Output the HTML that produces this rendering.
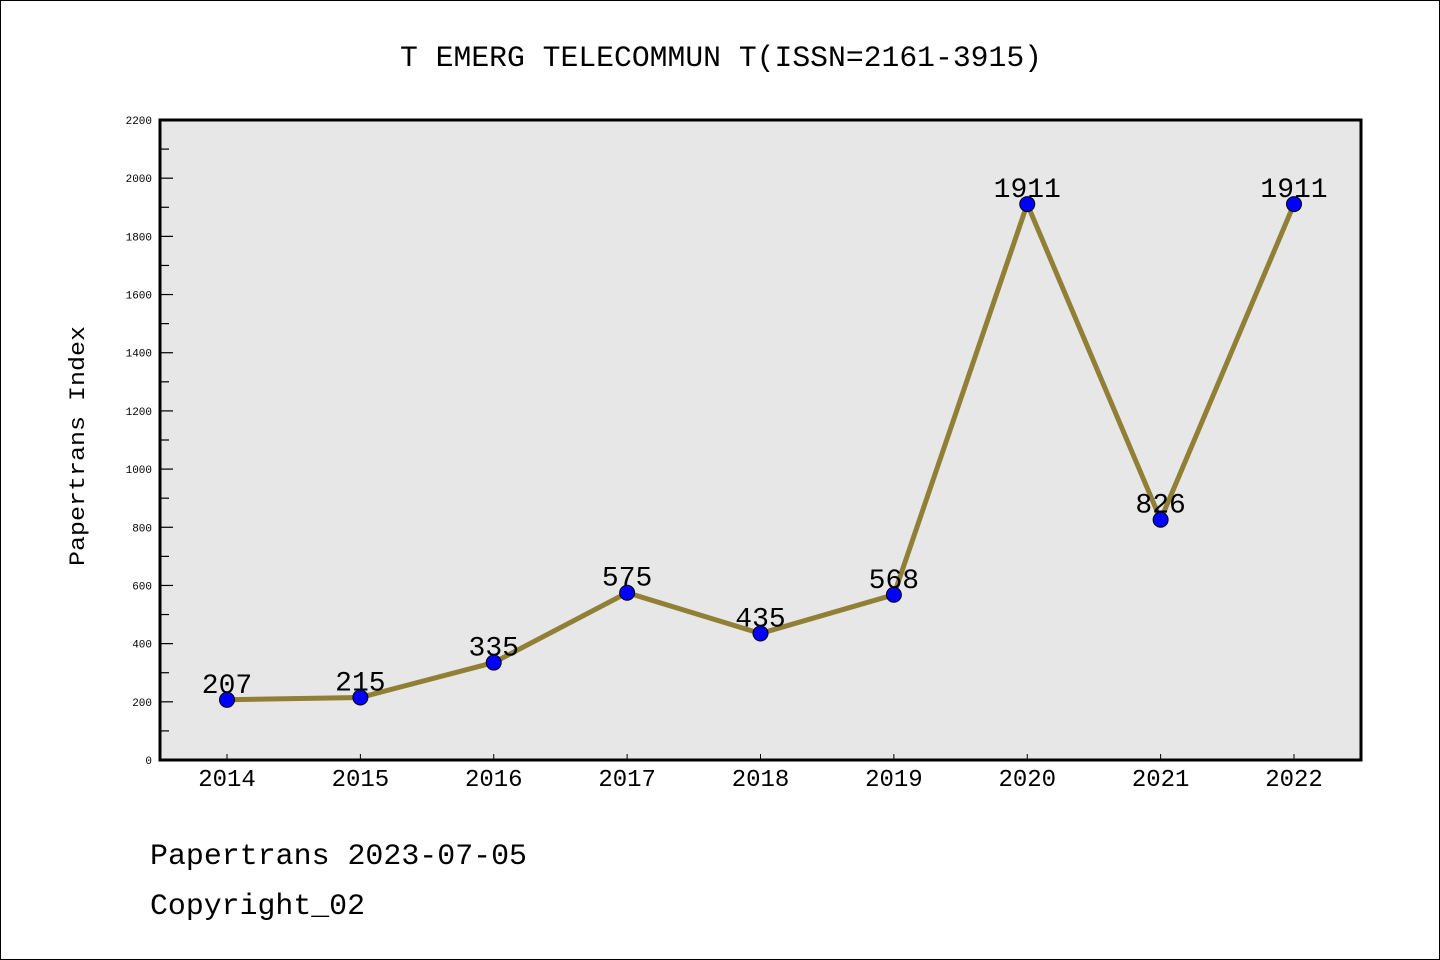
<!DOCTYPE html>
<html><head><meta charset="utf-8"><style>
html,body{margin:0;padding:0;background:#fff}
svg{display:block}
text{font-family:"Liberation Mono","DejaVu Sans Mono",monospace}
</style></head><body>
<svg id="chart" width="1440" height="960" xmlns="http://www.w3.org/2000/svg">
<rect x="0.5" y="0.5" width="1439" height="959" fill="#fff" stroke="#000"/>
<text x="721" y="66" text-anchor="middle" font-size="30" textLength="642" lengthAdjust="spacingAndGlyphs">T EMERG TELECOMMUN T(ISSN=2161-3915)</text>
<rect x="160" y="120" width="1201" height="640" fill="#e7e7e7"/>
<g id="axes"></g>
<g id="series"></g>
<rect x="160" y="120" width="1201" height="640" fill="none" stroke="#000" stroke-width="3"/>
<text transform="translate(84,446) rotate(-90)" text-anchor="middle" font-size="22" textLength="240" lengthAdjust="spacingAndGlyphs">Papertrans Index</text>
<text x="150" y="864" font-size="30" textLength="377" lengthAdjust="spacingAndGlyphs">Papertrans 2023-07-05</text>
<text x="150" y="914" font-size="30" textLength="215" lengthAdjust="spacingAndGlyphs">Copyright_02</text>
</svg>
<script>
const years=["2014","2015","2016","2017","2018","2019","2020","2021","2022"];
const values=[207,215,335,575,435,568,1911,826,1911];
const yTicks=[0,200,400,600,800,1000,1200,1400,1600,1800,2000,2200];
const NS="http://www.w3.org/2000/svg";
const x0=227,x1=1294,yMin=0,yMax=2200,py0=760,py1=120;
function xs(i){return x0+(x1-x0)*i/(years.length-1);}
function ys(v){return py0-(v-yMin)/(yMax-yMin)*(py0-py1);}
function mk(tag,attrs,parent){const e=document.createElementNS(NS,tag);for(const k in attrs)e.setAttribute(k,attrs[k]);parent.appendChild(e);return e;}
const axes=document.getElementById('axes'),series=document.getElementById('series');
yTicks.forEach((v,i)=>{
  const t=mk('line',{x1:160,x2:173,y1:ys(v),y2:ys(v),stroke:'#000','stroke-width':1.2},axes);
  
  
  const l=mk('text',{x:152,y:ys(v)+4,'text-anchor':'end','font-size':11,'font-family':'DejaVu Sans, sans-serif'},axes);
  l.textContent=v;
  
  
  if(i<yTicks.length-1){
    const mv=(v+yTicks[i+1])/2;
    const m=mk('line',{x1:160,x2:169,y1:ys(mv),y2:ys(mv),stroke:'#000','stroke-width':1.2},axes);
    
    
  }
});
years.forEach((y,i)=>{
  const t=mk('line',{x1:xs(i),x2:xs(i),y1:760,y2:754,stroke:'#000','stroke-width':1},axes);
  
  
  const l=mk('text',{x:xs(i),y:786,'text-anchor':'middle','font-size':24,'font-family':'DejaVu Sans, sans-serif'},axes);
  l.textContent=y;
  
  
});
const pl=mk('polyline',{points:values.map((v,i)=>xs(i)+','+ys(v)).join(' '),fill:'none',stroke:'#917f35','stroke-width':5,'stroke-linejoin':'round'},series);


values.forEach((v,i)=>{
  const c=mk('circle',{cx:xs(i),cy:ys(v),r:7.5,fill:'#0000ff',stroke:'#000','stroke-width':1},series);
  
  
  const l=mk('text',{x:xs(i),y:ys(v)-7,'text-anchor':'middle','font-size':28,'font-family':'DejaVu Sans, sans-serif'},series);
  l.textContent=v;
  
  
});
</script>
</body></html>
